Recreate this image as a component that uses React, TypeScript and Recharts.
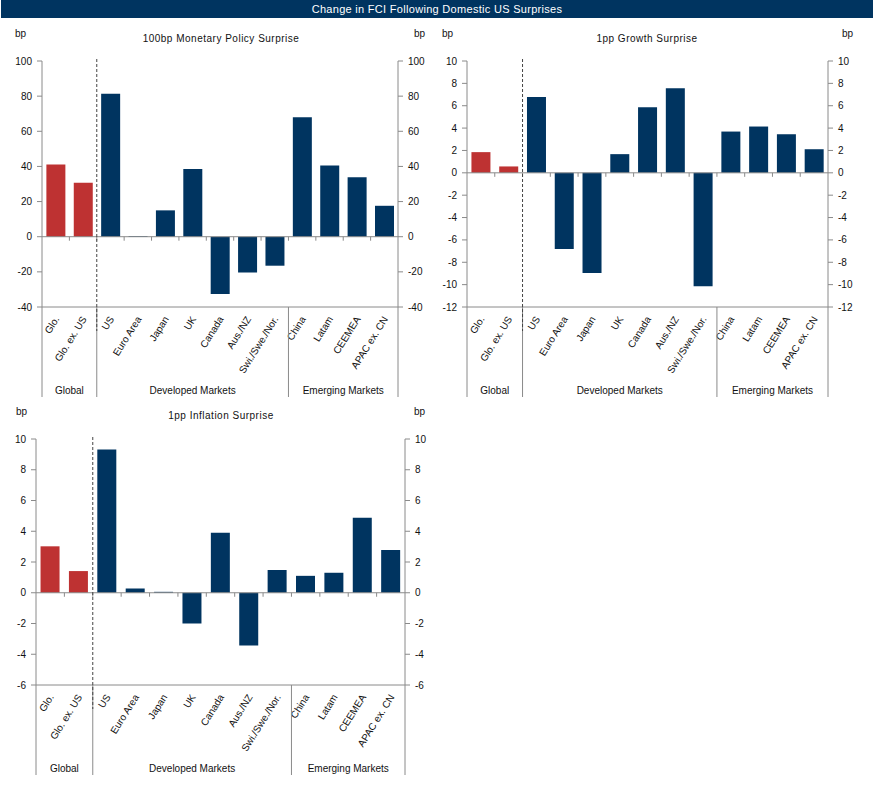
import React from "react";
import { ComposedChart, Bar, Line, Cell, XAxis, YAxis, ReferenceLine } from "recharts";

const categories = [
  "Glo.",
  "Glo. ex. US",
  "US",
  "Euro Area",
  "Japan",
  "UK",
  "Canada",
  "Aus./NZ",
  "Swi./Swe./Nor.",
  "China",
  "Latam",
  "CEEMEA",
  "APAC ex. CN",
];

const monetaryValues = [41.1, 30.7, 81.4, 0.4, 15.0, 38.6, -32.6, -20.3, -16.5, 68.0, 40.5, 33.9, 17.6];
const growthValues = [1.85, 0.57, 6.79, -6.82, -8.96, 1.67, 5.86, 7.56, -10.15, 3.69, 4.14, 3.45, 2.11];
const inflationValues = [3.02, 1.41, 9.31, 0.28, 0.06, -2.0, 3.9, -3.43, 1.48, 1.1, 1.3, 4.88, 2.78];

const monetaryTicks = [-40, -20, 0, 20, 40, 60, 80, 100];
const growthTicks = [-12, -10, -8, -6, -4, -2, 0, 2, 4, 6, 8, 10];
const inflationTicks = [-6, -4, -2, 0, 2, 4, 6, 8, 10];

const groups = [
  { label: "Global", start: 0, count: 2 },
  { label: "Developed Markets", start: 2, count: 7 },
  { label: "Emerging Markets", start: 9, count: 4 },
];

const RED = "#BE3232";
const NAVY = "#003460";
const GRAY = "#8a8a8a";
const FONT = "'Liberation Sans', Arial, sans-serif";

const PLOT_H = 246;

interface PanelProps {
  title: string;
  values: number[];
  ticks: number[];
  left: number;
  top: number;
  width: number;
  height: number;
  axisLeft: number;
  axisRight: number;
  plotTop: number;
  titleX: number;
  titleY: number;
  bpLeftX: number;
  bpRightX: number;
  bpY: number;
}

function Panel(p: PanelProps) {
  const data = categories.map((name, i) => ({ name, value: p.values[i] }));
  const min = p.ticks[0];
  const max = p.ticks[p.ticks.length - 1];
  const band = (p.width - p.axisLeft - p.axisRight) / categories.length;
  const zeroOffset = (PLOT_H * (0 - min)) / (max - min);

  const renderTick = (props: any) => {
    const { x, y, payload, index } = props;
    const i = index ?? categories.indexOf(payload.value);
    const edge = x - band / 2;
    const group = groups.find((g) => g.start === i);
    return (
      <g>
        <text
          x={0}
          y={0}
          transform={`translate(${x + 4},${y + 12}) rotate(-58)`}
          textAnchor="end"
          fontSize={10}
          fontFamily={FONT}
          fill="#111"
        >
          {payload.value}
        </text>
        {i > 0 && (
          <line x1={edge} x2={edge} y1={y - zeroOffset} y2={y - zeroOffset + 4} stroke={GRAY} />
        )}
        {group && <line x1={edge} x2={edge} y1={y} y2={y + 90} stroke={GRAY} />}
        {i === 2 && (
          <line
            x1={edge}
            x2={edge}
            y1={y - PLOT_H - 2}
            y2={y + 24}
            stroke="#444"
            strokeDasharray="3 2"
          />
        )}
        {i === categories.length - 1 && (
          <line x1={x + band / 2} x2={x + band / 2} y1={y} y2={y + 90} stroke={GRAY} />
        )}
        {group && (
          <text
            x={edge + (group.count * band) / 2}
            y={y + 87}
            textAnchor="middle"
            fontSize={10}
            fontFamily={FONT}
            fill="#111"
          >
            {group.label}
          </text>
        )}
      </g>
    );
  };

  const textStyle: React.CSSProperties = {
    position: "absolute",
    fontSize: 10,
    fontFamily: FONT,
    color: "#111",
    whiteSpace: "nowrap",
    lineHeight: "12px",
  };

  return (
    <div style={{ position: "absolute", left: p.left, top: p.top, width: p.width, height: p.height }}>
      <div style={{ ...textStyle, left: p.bpLeftX, top: p.bpY - 6 }}>bp</div>
      <div style={{ ...textStyle, left: p.bpRightX, top: p.bpY - 6 }}>bp</div>
      <div
        style={{
          ...textStyle,
          left: p.titleX - 150,
          width: 300,
          textAlign: "center",
          top: p.titleY - 6,
          letterSpacing: 0.5,
        }}
      >
        {p.title}
      </div>
      <ComposedChart
        width={p.width}
        height={p.height}
        data={data}
        margin={{ top: p.plotTop, right: 0, left: 0, bottom: 0 }}
        barCategoryGap="16%"
        style={{ position: "absolute", left: 0, top: 0 }}
      >
        <XAxis
          dataKey="name"
          interval={0}
          height={p.height - p.plotTop - PLOT_H}
          tickLine={false}
          tickSize={0}
          tickMargin={0}
          axisLine={{ stroke: GRAY }}
          tick={renderTick}
        />
        <YAxis
          yAxisId="left"
          orientation="left"
          width={p.axisLeft}
          domain={[min, max]}
          ticks={p.ticks}
          interval={0}
          tickSize={5}
          tickMargin={5}
          axisLine={{ stroke: GRAY }}
          tickLine={{ stroke: GRAY }}
          tick={{ fontSize: 10, fontFamily: FONT, fill: "#111" }}
        />
        <YAxis
          yAxisId="right"
          orientation="right"
          width={p.axisRight}
          domain={[min, max]}
          ticks={p.ticks}
          interval={0}
          tickSize={5}
          tickMargin={5}
          axisLine={{ stroke: GRAY }}
          tickLine={{ stroke: GRAY }}
          tick={{ fontSize: 10, fontFamily: FONT, fill: "#111" }}
        />
        <Bar dataKey="value" yAxisId="left" isAnimationActive={false}>
          {data.map((d, i) => (
            <Cell key={d.name} fill={i < 2 ? RED : NAVY} />
          ))}
        </Bar>
        <Line
          dataKey="value"
          yAxisId="right"
          stroke="none"
          dot={false}
          activeDot={false}
          legendType="none"
          isAnimationActive={false}
        />
        <ReferenceLine y={0} yAxisId="left" stroke={GRAY} />
      </ComposedChart>
    </div>
  );
}

export default function App() {
  return (
    <div
      style={{
        position: "absolute",
        left: 0,
        top: 0,
        width: 874,
        height: 785,
        background: "#fff",
        fontFamily: FONT,
      }}
    >
      <div
        style={{
          position: "absolute",
          left: 1,
          top: 0,
          width: 872,
          height: 18,
          background: NAVY,
          color: "#fff",
          fontSize: 11,
          lineHeight: "18px",
          textAlign: "center",
          letterSpacing: 0.3,
        }}
      >
        Change in FCI Following Domestic US Surprises
      </div>
      <Panel
        title="100bp Monetary Policy Surprise"
        values={monetaryValues}
        ticks={monetaryTicks}
        left={0}
        top={0}
        width={440}
        height={400}
        axisLeft={42}
        axisRight={42}
        plotTop={61}
        titleX={221}
        titleY={39}
        bpLeftX={15}
        bpRightX={414}
        bpY={34}
      />
      <Panel
        title="1pp Growth Surprise"
        values={growthValues}
        ticks={growthTicks}
        left={430}
        top={0}
        width={444}
        height={400}
        axisLeft={37}
        axisRight={46}
        plotTop={61}
        titleX={217}
        titleY={39}
        bpLeftX={12}
        bpRightX={412}
        bpY={34}
      />
      <Panel
        title="1pp Inflation Surprise"
        values={inflationValues}
        ticks={inflationTicks}
        left={0}
        top={400}
        width={440}
        height={385}
        axisLeft={36}
        axisRight={35}
        plotTop={39}
        titleX={221}
        titleY={16}
        bpLeftX={16}
        bpRightX={414}
        bpY={12}
      />
    </div>
  );
}
